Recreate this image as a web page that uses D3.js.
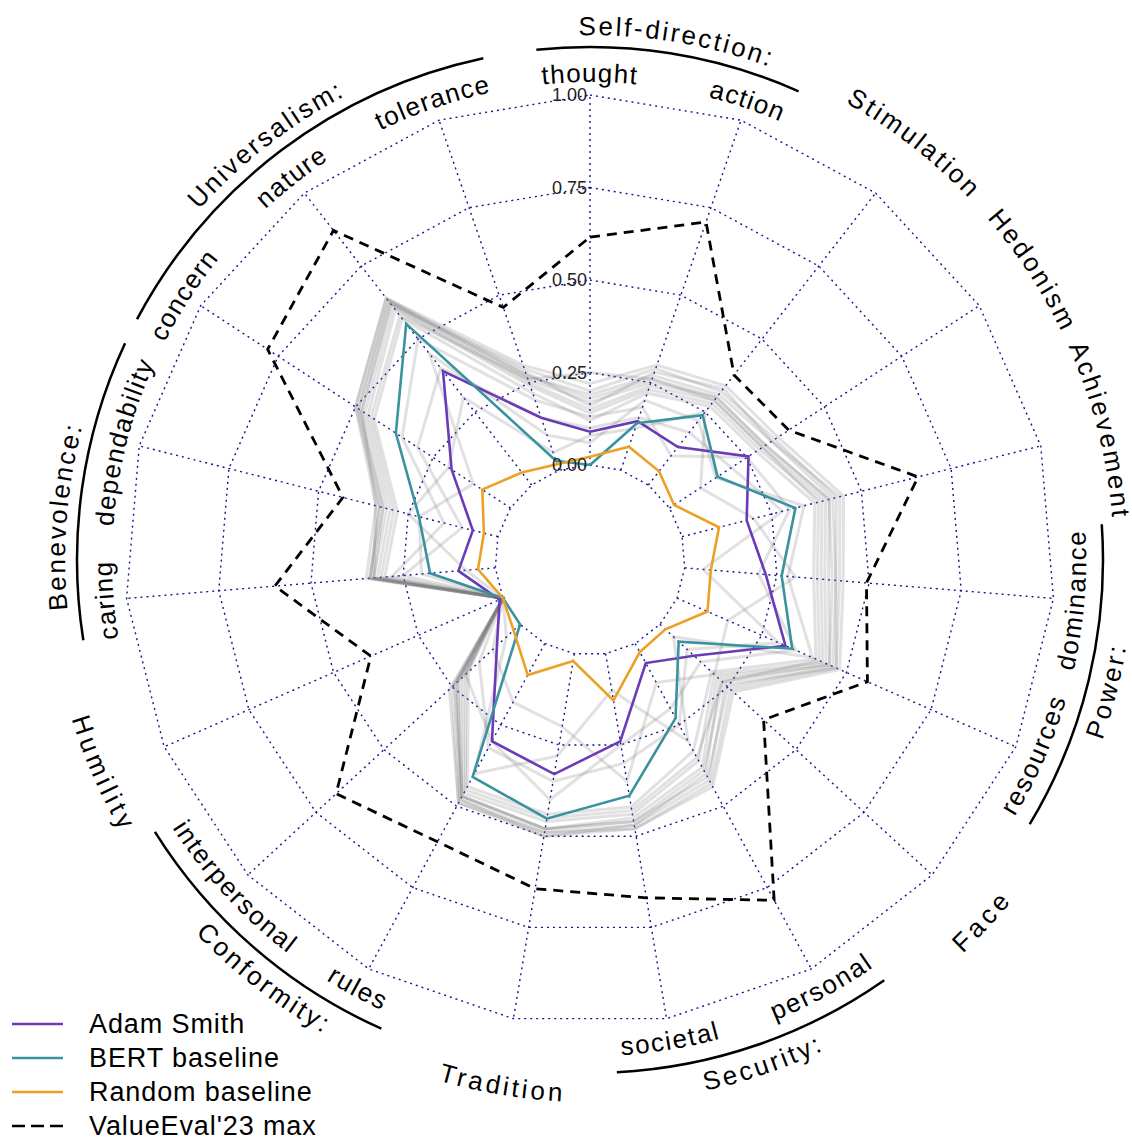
<!DOCTYPE html>
<html>
<head>
<meta charset="utf-8">
<script src="https://cdn.jsdelivr.net/npm/d3@7"></script>
<style>
  body { margin: 0; background: #fff; }
  text { font-family: "Liberation Sans", Arial, Helvetica, sans-serif; fill: #000; }
</style>
</head>
<body>
<svg width="1132" height="1140"></svg>
<script>
// axis (value) names, clockwise from the top
const axisNames = ["thought", "action", "Stimulation", "Hedonism", "Achievement",
  "dominance", "resources", "Face", "personal", "societal", "Tradition", "rules",
  "interpersonal", "Humility", "caring", "dependability", "concern", "nature", "tolerance"];
// axes that sit under a group heading
const subAxes = [0, 1, 5, 6, 8, 9, 11, 12, 14, 15, 16, 17, 18];
const groupNames = ["Self-direction:", "Power:", "Security:", "Conformity:", "Benevolence:", "Universalism:"];
const groupAxes = [[0, 1], [5, 6], [8, 9], [11, 12], [14, 15], [16, 17, 18]];

const tickValues = [0, 0.25, 0.5, 0.75, 1];
const tickLabels = ["0.00", "0.25", "0.50", "0.75", "1.00"];

const seriesNames = ["Adam Smith", "BERT baseline", "Random baseline", "ValueEval'23 max"];

const adamSmith = [0.09, 0.14, 0.13, 0.255, 0.18, 0.22, 0.32, 0.125, 0.06, 0.24,
  0.33, 0.30, 0.085, 0.01, 0.10, 0.07, 0.19, 0.39, 0.15];
const bertBaseline = [0.0, 0.134, 0.239, 0.155, 0.316, 0.263, 0.34, 0.069, 0.229, 0.389,
  0.452, 0.41, 0.0, 0.0, 0.177, 0.22, 0.37, 0.552, 0.027];
const randomBaseline = [0.022, 0.067, 0.047, 0.015, 0.103, 0.071, 0.09, 0.02, 0.026, 0.128,
  0.02, 0.097, 0.024, 0.0, 0.047, 0.039, 0.091, 0.043, 0.017];
const valueEvalMax = [0.616, 0.709, 0.377, 0.385, 0.658, 0.493, 0.562, 0.381, 0.789, 0.669,
  0.644, 0.609, 0.676, 0.39, 0.598, 0.432, 0.784, 0.872, 0.465];

// other submitted runs (grey)
const otherRuns = [
  [0.16, 0.28, 0.33, 0.33, 0.44, 0.42, 0.47, 0.26, 0.43, 0.48, 0.50, 0.49, 0.25, 0.00, 0.34, 0.33, 0.50, 0.64, 0.28],
  [0.18, 0.26, 0.30, 0.31, 0.41, 0.39, 0.45, 0.22, 0.40, 0.47, 0.49, 0.48, 0.23, 0.00, 0.34, 0.32, 0.49, 0.63, 0.27],
  [0.20, 0.29, 0.32, 0.34, 0.43, 0.41, 0.46, 0.25, 0.41, 0.46, 0.48, 0.47, 0.22, 0.00, 0.33, 0.34, 0.48, 0.62, 0.29],
  [0.15, 0.24, 0.29, 0.30, 0.40, 0.38, 0.44, 0.21, 0.38, 0.45, 0.48, 0.47, 0.24, 0.00, 0.33, 0.31, 0.47, 0.61, 0.25],
  [0.22, 0.30, 0.34, 0.35, 0.45, 0.43, 0.48, 0.27, 0.44, 0.48, 0.49, 0.49, 0.26, 0.00, 0.35, 0.34, 0.50, 0.64, 0.30],
  [0.14, 0.23, 0.28, 0.29, 0.39, 0.37, 0.43, 0.20, 0.36, 0.44, 0.46, 0.46, 0.21, 0.00, 0.32, 0.30, 0.46, 0.60, 0.24],
  [0.19, 0.27, 0.31, 0.33, 0.42, 0.41, 0.47, 0.24, 0.42, 0.47, 0.50, 0.48, 0.24, 0.00, 0.34, 0.33, 0.49, 0.63, 0.27],
  [0.25, 0.26, 0.29, 0.30, 0.38, 0.36, 0.42, 0.23, 0.35, 0.43, 0.45, 0.45, 0.20, 0.00, 0.31, 0.29, 0.45, 0.58, 0.26],
  [0.12, 0.22, 0.27, 0.28, 0.37, 0.35, 0.41, 0.19, 0.33, 0.42, 0.44, 0.44, 0.19, 0.00, 0.30, 0.28, 0.44, 0.57, 0.22],
  [0.17, 0.25, 0.30, 0.31, 0.41, 0.40, 0.45, 0.23, 0.39, 0.46, 0.48, 0.47, 0.23, 0.00, 0.33, 0.32, 0.48, 0.62, 0.26],
  [0.10, 0.15, 0.18, 0.20, 0.28, 0.05, 0.30, 0.10, 0.25, 0.30, 0.35, 0.32, 0.15, 0.00, 0.25, 0.10, 0.30, 0.40, 0.15],
  [0.06, 0.20, 0.22, 0.15, 0.34, 0.28, 0.40, 0.05, 0.30, 0.10, 0.28, 0.40, 0.05, 0.00, 0.20, 0.22, 0.12, 0.45, 0.10],
  [0.08, 0.12, 0.25, 0.10, 0.20, 0.30, 0.15, 0.20, 0.12, 0.35, 0.20, 0.18, 0.10, 0.00, 0.08, 0.25, 0.20, 0.30, 0.05],
  [0.13, 0.18, 0.10, 0.25, 0.30, 0.20, 0.35, 0.15, 0.20, 0.25, 0.40, 0.30, 0.20, 0.00, 0.28, 0.15, 0.35, 0.50, 0.20]
];

const width = 1132, height = 1140;
const cx = 590, cy = 560;

let svg = d3.select("svg");
let defs = svg.append("defs");
let chart = svg.append("g").attr("transform", "translate(" + cx + "," + cy + ")");

var n = axisNames.length;
var angle = d3.scaleLinear().domain([0, n]).range([0, 2 * Math.PI]);
var r = d3.scaleLinear().domain([0, 1]).range([95, 465]);

var radarLine = d3.lineRadial()
  .angle(function(d, i) { return angle(i); })
  .radius(function(d) { return r(d); })
  .curve(d3.curveLinearClosed);

// web grid
var gridColor = "#15158f";
tickValues.forEach(function(t) {
  chart.append("path")
    .attr("d", radarLine(axisNames.map(function() { return t; })))
    .attr("fill", "none")
    .attr("stroke", gridColor)
    .attr("stroke-width", 1.4)
    .attr("stroke-dasharray", "2,4");
});
chart.selectAll("line.spoke")
  .data(axisNames)
  .enter()
  .append("line")
  .attr("class", "spoke")
  .attr("x1", function(d, i) { return r(0) * Math.sin(angle(i)); })
  .attr("y1", function(d, i) { return -r(0) * Math.cos(angle(i)); })
  .attr("x2", function(d, i) { return r(1) * Math.sin(angle(i)); })
  .attr("y2", function(d, i) { return -r(1) * Math.cos(angle(i)); })
  .attr("stroke", gridColor)
  .attr("stroke-width", 1.4)
  .attr("stroke-dasharray", "2,4");

// grey runs
chart.selectAll("path.run")
  .data(otherRuns)
  .enter()
  .append("path")
  .attr("class", "run")
  .attr("d", radarLine)
  .attr("fill", "none")
  .attr("stroke", "#777")
  .attr("stroke-opacity", 0.22)
  .attr("stroke-width", 3);

var colors = ["#6b3ab6", "#3a929f", "#eca126", "#000"];
var mainSeries = [adamSmith, bertBaseline, randomBaseline, valueEvalMax];
chart.selectAll("path.series")
  .data(mainSeries)
  .enter()
  .append("path")
  .attr("class", "series")
  .attr("d", radarLine)
  .attr("fill", "none")
  .attr("stroke", function(d, i) { return colors[i]; })
  .attr("stroke-width", function(d, i) { return i == 3 ? 2.8 : 2.6; })
  .attr("stroke-dasharray", function(d, i) { return i == 3 ? "10,7" : null; });

// tick labels along the top spoke
chart.selectAll("text.tick")
  .data(tickValues)
  .enter()
  .append("text")
  .attr("class", "tick")
  .attr("x", -3)
  .attr("y", function(d) { return -r(d); })
  .attr("dy", "0.35em")
  .attr("text-anchor", "end")
  .style("font-size", "18px")
  .style("fill", "#222")
  .text(function(d, i) { return tickLabels[i]; });

// curved text helpers (paths in absolute page coordinates)
function pt(rad, deg) {
  var a = deg * Math.PI / 180;
  return [cx + rad * Math.sin(a), cy - rad * Math.cos(a)];
}
function flipped(deg) {
  var d = ((deg % 360) + 360) % 360;
  return d > 90 && d < 262;
}
function labelPath(rad, deg) {
  var span = 70;
  var f = flipped(deg);
  var p0 = pt(rad, f ? deg + span : deg - span);
  var p1 = pt(rad, f ? deg - span : deg + span);
  return "M" + p0[0] + "," + p0[1] + " A" + rad + "," + rad + " 0 0 " + (f ? 0 : 1) + " " + p1[0] + "," + p1[1];
}
var labelCount = 0;
function curvedLabel(txt, rad, deg, spacing) {
  var id = "lbl" + (labelCount++);
  defs.append("path").attr("id", id).attr("d", labelPath(rad, deg));
  svg.append("text")
    .attr("dy", "0.35em")
    .style("font-size", "26px")
    .style("letter-spacing", spacing + "px")
    .append("textPath")
    .attr("href", "#" + id)
    .attr("startOffset", "50%")
    .attr("text-anchor", "middle")
    .text(txt);
}

var stepDeg = 360 / n;
axisNames.forEach(function(name, i) {
  var isSub = subAxes.indexOf(i) >= 0;
  var spacing = isSub ? 1.5 : (name == "Humility" || name == "Face" ? 4 : 3);
  curvedLabel(name, isSub ? 487 : 533, i * stepDeg, spacing);
});

// group headings and their arcs
var groupArcs = [[-6, 24], [86, 121], [145, 177], [204, 238], [261, 295], [298, 348]];
groupNames.forEach(function(name, g) {
  var ax = groupAxes[g];
  var mid = (ax[0] + ax[ax.length - 1]) / 2 * stepDeg;
  curvedLabel(name, 534, mid, 2.7);
  chart.append("path")
    .attr("d", d3.arc()
      .innerRadius(513).outerRadius(513)
      .startAngle(groupArcs[g][0] * Math.PI / 180)
      .endAngle(groupArcs[g][1] * Math.PI / 180)())
    .attr("fill", "none")
    .attr("stroke", "#000")
    .attr("stroke-width", 2.5);
});

// legend
var legend = svg.append("g").attr("transform", "translate(12,1024)");
var rowStep = 34;
seriesNames.forEach(function(name, i) {
  legend.append("line")
    .attr("x1", 0).attr("x2", 51)
    .attr("y1", i * rowStep).attr("y2", i * rowStep)
    .attr("stroke", colors[i])
    .attr("stroke-width", 2.6)
    .attr("stroke-dasharray", i == 3 ? "13,6" : null);
  legend.append("text")
    .attr("x", 77)
    .attr("y", i * rowStep)
    .attr("dy", "0.35em")
    .style("font-size", "27px")
    .style("letter-spacing", "0.9px")
    .text(name);
});
</script>
</body>
</html>
